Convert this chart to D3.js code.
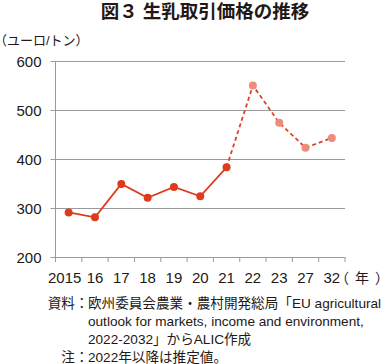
<!DOCTYPE html>
<html>
<head>
<meta charset="utf-8">
<script src="https://cdn.jsdelivr.net/npm/d3@7"></script>
<style>
  body { margin: 0; background: #fff; }
  svg text { font-family: "Liberation Sans", "Noto Sans CJK JP", sans-serif; fill: #231815; }
</style>
</head>
<body>
<div id="chart"></div>
<script>
// data
var years = ["2015", "16", "17", "18", "19", "20", "21", "22", "23", "27", "32"];
var prices = [291, 281, 349, 321, 343, 324, 383, 550, 474, 423, 443];
var firstEstimate = 7; // 2022 onward are estimates
var yTicks = [200, 300, 400, 500, 600];

var title = "図３ 生乳取引価格の推移";
var unitLabel = "（ユーロ/トン）";
var yearLabel = "（年）";
var notes = [
  ["資料：", "欧州委員会農業・農村開発総局「EU agricultural"],
  ["", "outlook for markets, income and environment,"],
  ["", "2022-2032」からALIC作成"],
  ["注：", "2022年以降は推定値。"]
];

var width = 384, height = 364;
var margin = {top: 61, right: 39, bottom: 107, left: 55.5};

var svg = d3.select("#chart")
  .append("svg")
    .attr("width", width)
    .attr("height", height);

var x = d3.scaleBand()
  .domain(years)
  .range([margin.left, width - margin.right]);

var y = d3.scaleLinear()
  .domain([200, 600])
  .range([height - margin.bottom, margin.top]);

// title
svg.append("text")
  .attr("x", 205)
  .attr("y", 18)
  .attr("text-anchor", "middle")
  .style("font-size", "18.5px")
  .style("font-weight", "bold")
  .text(title);

// unit
svg.append("text")
  .attr("x", -6)
  .attr("y", 45)
  .style("font-size", "13px")
  .text(unitLabel);

// gridlines + y labels
var yAxis = svg.append("g")
  .attr("transform", "translate(" + margin.left + ",0)")
  .call(d3.axisLeft(y)
    .tickValues(yTicks)
    .tickSize(-(width - margin.right - margin.left))
    .tickSizeOuter(0)
    .tickPadding(14));
yAxis.select(".domain").remove();
yAxis.selectAll(".tick line")
  .attr("x1", -5)
  .attr("stroke", "#9a9a9a");
yAxis.selectAll(".tick text")
  .style("font-size", "15px")
  .attr("dy", "0.38em");

// y axis line
svg.append("line")
  .attr("x1", margin.left).attr("x2", margin.left)
  .attr("y1", y(600)).attr("y2", y(200) + 5)
  .attr("stroke", "#9a9a9a");

// x axis with ticks between categories
var xg = svg.append("g")
  .attr("transform", "translate(0," + y(200) + ")");
xg.selectAll("line.tk")
  .data(years)
  .join("line")
    .attr("class", "tk")
    .attr("x1", d => x(d) + x.step())
    .attr("x2", d => x(d) + x.step())
    .attr("y1", 0)
    .attr("y2", 5)
    .attr("stroke", "#9a9a9a");
xg.selectAll("text")
  .data(years)
  .join("text")
    .attr("x", (d, i) => x(d) + x.bandwidth() / 2 - (i == 0 ? 4 : 0))
    .attr("y", 26)
    .attr("text-anchor", "middle")
    .style("font-size", "15px")
    .text(d => d);
xg.append("text")
  .attr("x", x(years[years.length - 1]) + x.bandwidth() - 10)
  .attr("y", 26)
  .style("font-size", "14px")
  .style("letter-spacing", "6px")
  .text(yearLabel);

// series
var pts = years.map((d, i) => ({year: d, value: prices[i], est: i >= firstEstimate}));
var line = d3.line()
  .x(d => x(d.year) + x.bandwidth() / 2)
  .y(d => y(d.value));

svg.append("path")
  .datum(pts.slice(firstEstimate - 1))
  .attr("fill", "none")
  .attr("stroke", "#e0402a")
  .attr("stroke-width", 1.8)
  .attr("stroke-dasharray", "4,3")
  .attr("d", line);

svg.append("path")
  .datum(pts.slice(0, firstEstimate))
  .attr("fill", "none")
  .attr("stroke", "#e03a1e")
  .attr("stroke-width", 1.8)
  .attr("d", line);

svg.selectAll("circle")
  .data(pts)
  .join("circle")
    .attr("cx", d => x(d.year) + x.bandwidth() / 2)
    .attr("cy", d => y(d.value))
    .attr("r", 4)
    .attr("fill", d => d.est ? "#ee8c7c" : "#e03a1e");

// notes
var ng = svg.append("g");
notes.forEach((n, i) => {
  var yy = 308 + i * 18.1;
  ng.append("text")
    .attr("x", 88.5)
    .attr("y", yy)
    .attr("text-anchor", "end")
    .style("font-size", "13.6px")
    .text(n[0]);
  ng.append("text")
    .attr("x", 88)
    .attr("y", yy)
    .style("font-size", "13.6px")
    .text(n[1]);
});
</script>
</body>
</html>
